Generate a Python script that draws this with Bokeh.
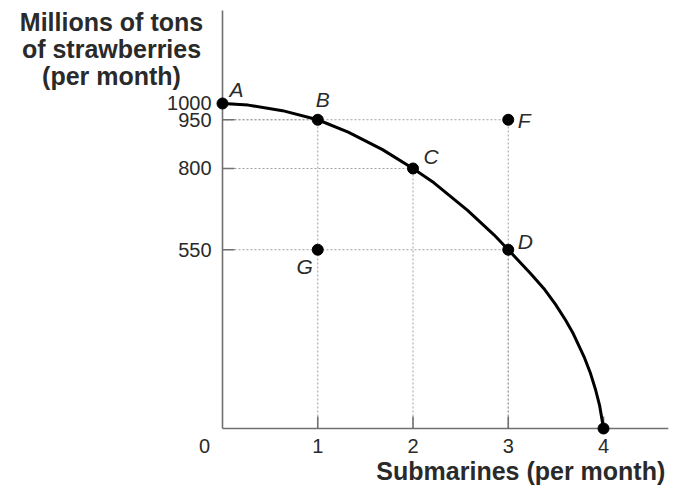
import math
from bokeh.plotting import figure
from bokeh.models import Range1d, Label
from bokeh.core.properties import value
from bokeh.embed import file_html
from bokeh.resources import INLINE

# ---- data ----
point_names = ["A", "B", "C", "D", "F", "G"]
point_x = [0, 1, 2, 3, 3, 1]
point_y = [1000, 950, 800, 550, 950, 550]

# production possibilities frontier (submarines, strawberries)
curve_x = [0, 0.27, 0.63, 1, 1.32, 1.68, 2, 2.22, 2.57, 2.85, 3, 3.234, 3.373, 3.496, 3.601,
           3.682, 3.801, 3.864, 3.916, 3.958, 3.986, 4]
curve_y = [1000, 995, 978, 950, 912, 858, 800, 756, 672, 596, 550, 477, 431, 382, 334,
           292, 217, 169, 120, 72, 25, 0]

x_ticks = [1, 2, 3, 4]
y_ticks = [550, 800, 950, 1000]
guide_points = ["B", "C", "D", "F"]

x_title = "Submarines (per month)"
y_title = ["Millions of tons", "of strawberries", "(per month)"]

# ---- layout / styles ----
X_AXIS_END = 4.68
Y_AXIS_TOP = 1286
FONT = "Liberation Sans"
AXIS_COLOR = "#707070"
TEXT_COLOR = "#2a2a2a"
label_offsets = {"A": (14, 14), "B": (5, 20), "C": (18, 12), "D": (17, 8), "F": (16, -1), "G": (-13, -17)}

p = figure(width=673, height=490, min_border=0,
           x_range=Range1d(-2.3307, 4.7348), y_range=Range1d(-190.77, 1316.9),
           x_axis_location=None, y_axis_location=None,
           output_backend="svg", toolbar_location=None)
p.grid.visible = False
p.outline_line_color = None
p.background_fill_color = "white"
p.border_fill_color = "white"

# dotted guide lines from axes to points
lookup = {n: (x, y) for n, x, y in zip(point_names, point_x, point_y)}
gx0, gy0, gx1, gy1 = [], [], [], []
for n in guide_points:
    x, y = lookup[n]
    gx0 += [0, x]; gy0 += [y, 0]
    gx1 += [x, x]; gy1 += [y, y]
p.segment(gx0, gy0, gx1, gy1, line_color="#a0a0a0", line_width=1, line_dash="2 2")

# axis lines
p.segment([0, 0], [0, 0], [X_AXIS_END, 0], [0, Y_AXIS_TOP],
          line_color=AXIS_COLOR, line_width=1.6)

# inner tick marks
p.ray(x=x_ticks, y=[0] * len(x_ticks), length=12, length_units="screen",
      angle=math.pi / 2, line_color=AXIS_COLOR, line_width=1.6)
p.ray(x=[0] * len(y_ticks), y=y_ticks, length=12, length_units="screen",
      angle=0, line_color=AXIS_COLOR, line_width=1.6)

# tick labels
p.text(x=x_ticks, y=[0] * len(x_ticks), text=[str(t) for t in x_ticks], y_offset=18,
       text_font=value(FONT), text_font_size="20px", text_color=TEXT_COLOR,
       text_align="center", text_baseline="middle")
p.text(x=[0] * len(y_ticks), y=y_ticks, text=[str(t) for t in y_ticks], x_offset=-11,
       text_font=value(FONT), text_font_size="20px", text_color=TEXT_COLOR,
       text_align="right", text_baseline="middle")
p.text(x=[0], y=[0], text=["0"], x_offset=-18, y_offset=18,
       text_font=value(FONT), text_font_size="20px", text_color=TEXT_COLOR,
       text_align="center", text_baseline="middle")

# frontier
p.line(curve_x, curve_y, line_color="black", line_width=3, line_join="round")

# points
p.scatter(point_x + [curve_x[-1]], point_y + [curve_y[-1]], size=11, color="black")

for n, x, y in zip(point_names, point_x, point_y):
    dx, dy = label_offsets[n]
    p.add_layout(Label(x=x, y=y, x_offset=dx, y_offset=dy, text=n,
                       text_font=FONT, text_font_size="21px", text_font_style="italic",
                       text_color=TEXT_COLOR, text_align="center", text_baseline="middle"))

# axis titles
p.add_layout(Label(x=X_AXIS_END, y=0, x_offset=-3, y_offset=-43, text=x_title,
                   text_font=FONT, text_font_size="25px", text_font_style="bold",
                   text_color=TEXT_COLOR, text_align="right", text_baseline="middle"))
for i, line in enumerate(y_title):
    p.add_layout(Label(x=0, y=Y_AXIS_TOP, x_offset=-111, y_offset=-11.5 - 27 * i, text=line,
                       text_font=FONT, text_font_size="25px", text_font_style="bold",
                       text_color=TEXT_COLOR, text_align="center", text_baseline="middle"))

open("out.html", "w").write(file_html(p, INLINE))
